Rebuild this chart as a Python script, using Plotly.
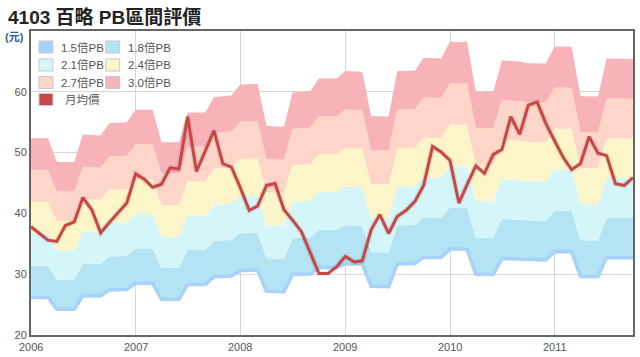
import pandas as pd
import plotly.graph_objects as go

# ---- data ----
months = pd.date_range("2006-01-01", periods=70, freq="MS")

price = [37.8, 36.7, 35.6, 35.4, 38.0, 38.6, 42.6, 40.6, 36.8, 38.5,
         40.1, 41.7, 46.5, 45.6, 44.3, 44.8, 47.5, 47.3, 55.9, 46.9,
         50.3, 53.6, 48.2, 47.6, 44.2, 40.5, 41.2, 44.6, 44.9, 40.6,
         38.9, 37.0, 33.5, 30.1, 30.1, 31.2, 32.9, 32.0, 32.2, 37.3,
         39.8, 36.7, 39.5, 40.5, 42.0, 44.6, 51.0, 50.1, 48.7, 41.7,
         44.7, 47.8, 46.6, 49.7, 50.5, 55.9, 53.0, 57.8, 58.3, 54.8,
         51.9, 49.1, 47.2, 48.2, 52.6, 49.9, 49.5, 44.9, 44.6, 45.9]

# book value per share (PB bands = multiple x bvps)
bvps = [17.45, 17.45, 17.45, 16.15, 16.15, 16.15, 17.66, 17.63, 17.60, 18.28,
        18.31, 18.33, 19.02, 19.02, 19.02, 17.24, 17.24, 17.24, 18.87, 18.87,
        18.87, 19.72, 19.75, 19.80, 20.40, 20.42, 20.43, 18.12, 18.10, 18.08,
        19.96, 20.00, 20.03, 20.73, 20.73, 20.73, 21.14, 21.12, 21.10, 18.68,
        18.66, 18.64, 21.13, 21.15, 21.17, 21.87, 21.85, 21.83, 22.76, 22.72,
        22.76, 20.00, 20.00, 20.00, 21.72, 21.70, 21.65, 21.57, 21.55, 21.55,
        22.49, 22.47, 22.47, 19.76, 19.74, 19.74, 21.82, 21.82, 21.80, 21.80]

multiples = [1.5, 1.8, 2.1, 2.4, 2.7, 3.0]
band_names = ["1.5倍PB", "1.8倍PB", "2.1倍PB", "2.4倍PB", "2.7倍PB", "3.0倍PB"]
band_colors = ["#a6d2fb", "#b4e3f3", "#d4f6f8", "#fdf5ca", "#fdd6c9", "#f8b3b8"]
price_name = "月均價"
price_color = "#c84646"

yticks = [20, 30, 40, 50, 60]
year_ticks = ["2006-01-01", "2007-01-01", "2008-01-01", "2009-01-01", "2010-01-01", "2011-01-01"]
year_labels = ["2006", "2007", "2008", "2009", "2010", "2011"]

# ---- figure ----
W, H = 640, 357
L, R, T, B = 31, 5, 31, 22
PW, PH = W - L - R, H - T - B
FONT = "Liberation Sans, Arial, Noto Sans CJK TC"


def px(x):
    return (x - L) / PW


def py(y):
    return (H - B - y) / PH


fig = go.Figure()

band_values = [[m * b for b in bvps] for m in multiples]

# base (invisible) 1.5x line for stacking fills
fig.add_trace(go.Scatter(x=months, y=band_values[0], mode="lines",
                         line=dict(width=0, color=band_colors[0]),
                         hoverinfo="skip", showlegend=False))
for k in range(1, len(multiples)):
    fig.add_trace(go.Scatter(x=months, y=band_values[k], mode="lines",
                             line=dict(width=0, color=band_colors[k]),
                             fill="tonexty", fillcolor=band_colors[k],
                             name=band_names[k], showlegend=False))
# visible 1.5x line
fig.add_trace(go.Scatter(x=months, y=band_values[0], mode="lines",
                         line=dict(width=3.5, color=band_colors[0]),
                         name=band_names[0], showlegend=False))
# price shadow + line
fig.add_trace(go.Scatter(x=months, y=price, mode="lines",
                         line=dict(width=6, color="rgba(0,0,0,0.07)"),
                         hoverinfo="skip", showlegend=False))
fig.add_trace(go.Scatter(x=months, y=price, mode="lines",
                         line=dict(width=3, color=price_color),
                         name=price_name, showlegend=False))

fig.update_layout(
    width=W, height=H,
    margin=dict(l=L, r=R, t=T, b=B),
    paper_bgcolor="white", plot_bgcolor="white",
    font=dict(family=FONT, size=11, color="#555"),
    xaxis=dict(type="date", range=["2006-01-01", "2011-10-01"],
               tickvals=year_ticks, showticklabels=False,
               showgrid=True, gridcolor="#d6d6d6", gridwidth=1,
               showline=True, linecolor="#666", linewidth=2, mirror=True,
               ticks="", zeroline=False),
    yaxis=dict(range=[20, 70], tickvals=yticks, ticktext=[str(v) for v in yticks],
               showgrid=True, gridcolor="#d6d6d6", gridwidth=1,
               showline=True, linecolor="#666", linewidth=2, mirror=True,
               ticks="", tickfont=dict(size=11, color="#555"), zeroline=False),
    showlegend=False,
)

annotations = [
    dict(text="<b>4103 百略 PB區間評價</b>", x=px(6), y=py(17), xref="paper", yref="paper",
         xanchor="left", yanchor="middle", showarrow=False,
         font=dict(size=19, color="#222", family="Liberation Sans, Noto Sans CJK TC")),
    dict(text="<b>(元)</b>", x=px(3), y=py(37), xref="paper", yref="paper",
         xanchor="left", yanchor="middle", showarrow=False,
         font=dict(size=11, color="#2a5fa0", family="Liberation Sans, Noto Sans CJK TC")),
]
# x-axis year labels
for xv, lab in zip(year_ticks, year_labels):
    annotations.append(dict(text=lab, x=xv, y=py(347), xref="x", yref="paper",
                            xanchor="center", yanchor="middle", showarrow=False,
                            font=dict(size=11, color="#555", family=FONT)))

shapes = []

# manual legend: 2 columns x 3 rows + price row
legend_items = list(zip(band_names, band_colors)) + [(price_name, price_color)]
col_x = [39, 106]
row_y = [47, 65, 82.5, 99.5]
for i, (name, color) in enumerate(legend_items):
    if i < 6:
        c, r = i % 2, i // 2
    else:
        c, r = 0, 3
    x0 = col_x[c]
    yc = row_y[r]
    shapes.append(dict(type="rect", xref="paper", yref="paper",
                       x0=px(x0), x1=px(x0 + 14), y0=py(yc + 6), y1=py(yc - 6),
                       fillcolor=color, line=dict(color="#c8c8c8", width=1), layer="above"))
    annotations.append(dict(text=name, x=px(x0 + 20 + (4 if i == 6 else 0)), y=py(yc),
                            xref="paper", yref="paper", xanchor="left", yanchor="middle",
                            showarrow=False,
                            font=dict(size=11.5, color="#555", family=FONT)))

fig.update_layout(annotations=annotations, shapes=shapes)
fig.write_html("out.html", config={"displayModeBar": False},
               post_script="document.body.style.margin='0';document.body.style.overflow='hidden';")
